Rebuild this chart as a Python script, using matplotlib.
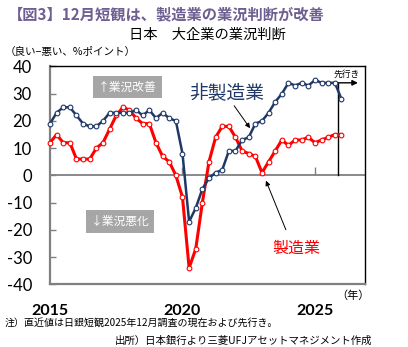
import numpy as np
import matplotlib.pyplot as plt

plt.rcParams['font.family'] = ['Noto Sans CJK JP', 'DejaVu Sans']

# Tankan, large enterprises, business conditions DI (quarterly, Mar 2015 - Dec 2025)
first_year = 2015
manufacturing = [12, 15, 12, 12, 6, 6, 6, 10, 12, 17, 22, 25,
                 24, 21, 19, 19, 12, 7, 5, 0, -8, -34, -27, -10,
                 5, 14, 18, 18, 14, 9, 8, 7, 1, 5, 9, 13,
                 11, 13, 13, 14, 12, 13, 14, 15]
non_manufacturing = [19, 23, 25, 25, 22, 19, 18, 18, 20, 23, 23, 23,
                     23, 24, 22, 24, 21, 23, 21, 20, 8, -17, -12, -5,
                     -1, 1, 2, 9, 9, 13, 14, 19, 20, 23, 27, 30,
                     34, 33, 34, 33, 35, 34, 34, 34]
# forecast for the next quarter
manufacturing_fc = 15
non_manufacturing_fc = 28

year_ticks = [2015, 2020, 2025]
y_ticks = [40, 30, 20, 10, 0, -10, -20, -30, -40]

navy = '#1f3866'
red = '#ff0000'
grey = '#808080'

# quarter positions on the time axis
n = len(manufacturing)
t = first_year + np.arange(n + 1) / 4.0
mfg = manufacturing + [manufacturing_fc]
nonmfg = non_manufacturing + [non_manufacturing_fc]

fig = plt.figure(figsize=(4.08, 3.47), dpi=100)
ax = fig.add_axes([0.1225, 0.1807, 0.771, 0.6277])

ax.axhline(0, color=grey, lw=1.3, zorder=1)
ax.vlines(year_ticks[1:], 0, 3, color=grey, lw=1.0, zorder=1)

ax.plot(t, mfg, color=red, lw=2.2, marker='o', ms=3.4, mfc='white',
        mec=red, mew=0.8, clip_on=False, zorder=3)
ax.plot(t, nonmfg, color=navy, lw=1.8, marker='o', ms=3.4, mfc='white',
        mec=navy, mew=0.8, clip_on=False, zorder=4)

ax.set_xlim(first_year, 2026.87)
ax.set_ylim(-40, 40)
ax.set_yticks(y_ticks)
ax.set_yticklabels([str(v) for v in y_ticks], family='Lato', fontsize=12)
ax.tick_params(axis='y', direction='in', length=4.5, width=1.0, color=grey, pad=13)
ax.set_xticks(year_ticks)
ax.set_xticklabels([str(v) for v in year_ticks], family='Lato', fontsize=11.5,
                   fontweight='bold')
ax.tick_params(axis='x', length=0, pad=14)

for s in ['left', 'bottom']:
    ax.spines[s].set_color(grey)
    ax.spines[s].set_linewidth(1.6)
for s in ['top', 'right']:
    ax.spines[s].set_color('black')
    ax.spines[s].set_linewidth(1.0)

# grey boxes
ax.text(2017.92, 32.5, '↑業況改善', color='white', fontsize=8.5, ha='center', va='center',
        bbox=dict(facecolor='#a6a6a6', edgecolor='none', pad=3.5))
ax.text(2017.65, -17, '↓業況悪化', color='white', fontsize=8.5, ha='center', va='center',
        bbox=dict(facecolor='#a6a6a6', edgecolor='none', pad=3.5))

# series labels with arrows
ax.text(2021.67, 30.1, '非製造業', color=navy, fontsize=13.5, ha='center', va='center')
ax.annotate('', xy=(2022.61, 16.5), xytext=(2021.89, 26.4),
            arrowprops=dict(arrowstyle='-|>', color='black', lw=0.7, mutation_scale=7))
ax.text(2024.28, -26.8, '製造業', color=red, fontsize=11.5, ha='center', va='center')
ax.annotate('', xy=(2023.11, -1.0), xytext=(2023.94, -20.9),
            arrowprops=dict(arrowstyle='-|>', color='black', lw=0.7, mutation_scale=7))

# forecast marker
fc_x = 2025.88
ax.plot([fc_x, fc_x], [0, 34], color='black', lw=1.0, zorder=2)
ax.annotate('', xy=(2026.62, 34), xytext=(fc_x - 0.02, 34),
            arrowprops=dict(arrowstyle='-|>', color='black', lw=1.0, mutation_scale=8,
                            shrinkA=0, shrinkB=0))
ax.text(2026.2, 37.2, '先行き', fontsize=6.3, ha='center', va='center')

# titles and notes
fig.text(8 / 408, 1 - 14 / 347, '【図3】12月短観は、製造業の業況判断が改善',
         color='#6e5f92', fontsize=11, fontweight='bold', ha='left', va='center')
fig.text(207 / 408, 1 - 35 / 347, '日本\u3000大企業の業況判断', fontsize=10.3,
         ha='center', va='center')
fig.text(5 / 408, 1 - 52 / 347, '（良い−悪い、%ポイント）', fontsize=7.6,
         ha='left', va='center')
fig.text(353 / 408, 1 - 296 / 347, '（年）', fontsize=8, ha='center', va='center')
fig.text(5 / 408, 1 - 323 / 347, '注）直近値は日銀短観2025年12月調査の現在および先行き。',
         fontsize=7.2, ha='left', va='center')
fig.text(115 / 408, 1 - 341 / 347, '出所）日本銀行より三菱UFJアセットマネジメント作成',
         fontsize=7.5, ha='left', va='center')

fig.savefig('out.png', dpi=100)
